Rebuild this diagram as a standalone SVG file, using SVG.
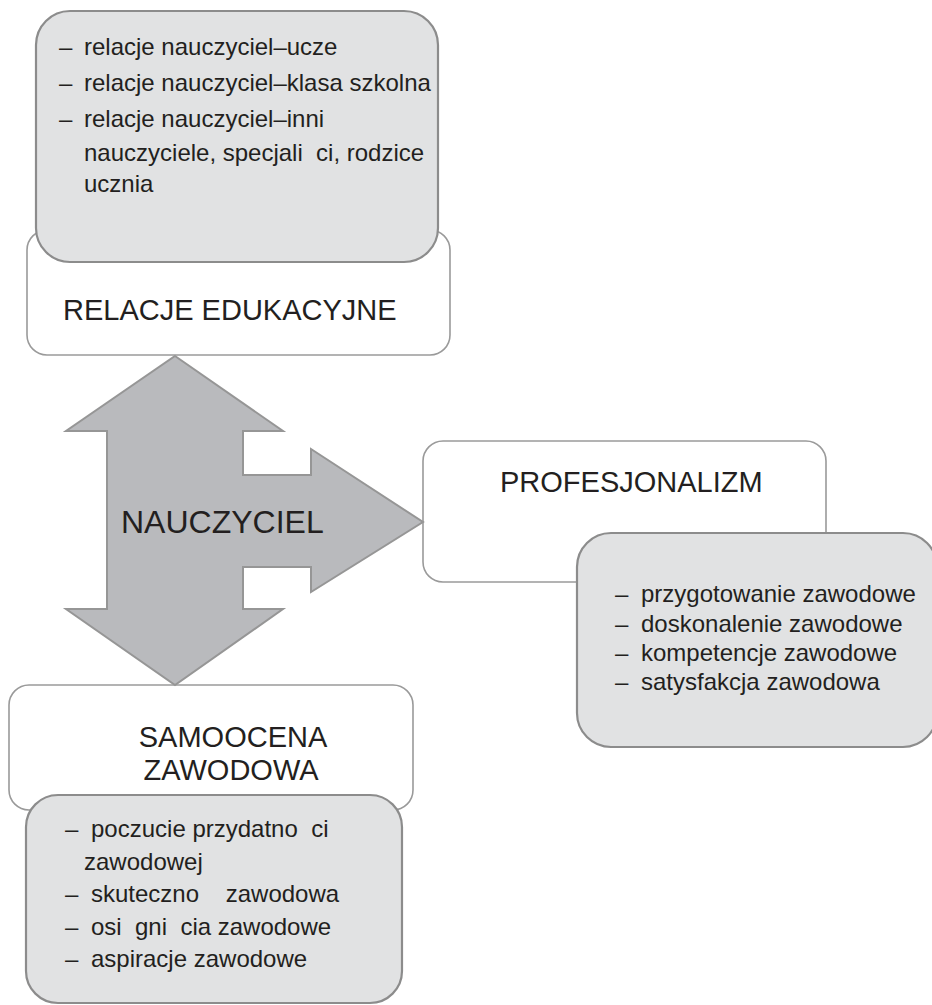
<svg xmlns="http://www.w3.org/2000/svg" width="932" height="1005" viewBox="0 0 932 1005">
  <style>
    .frame { fill: #ffffff; stroke: #9a9a9a; stroke-width: 1.6; }
    .detail { fill: #e1e2e3; stroke: #8c8c8c; stroke-width: 2.2; }
    .hub { fill: #b9babd; stroke: #969696; stroke-width: 2; stroke-linejoin: miter; }
    .title { font-family: "Liberation Sans", Arial, sans-serif; font-size: 29px; fill: #231f20; }
    .hubtext { font-family: "Liberation Sans", Arial, sans-serif; font-size: 32px; fill: #231f20; }
    .item { font-family: "Liberation Sans", Arial, sans-serif; font-size: 24px; fill: #231f20; white-space: pre; }
  </style>

  <rect width="932" height="1005" fill="#ffffff"/>

  <!-- Relacje edukacyjne -->
  <g id="relacje">
    <rect class="frame" x="27" y="230" width="423" height="125" rx="20"/>
    <text class="title" x="63" y="320">RELACJE EDUKACYJNE</text>
  </g>
  <g id="relacje-details">
    <rect class="detail" x="36" y="11" width="402" height="251" rx="34"/>
    <text class="item" x="59" y="55">–</text>
    <text class="item" x="84" y="55">relacje nauczyciel–ucze</text>
    <text class="item" x="59" y="91">–</text>
    <text class="item" x="84" y="91">relacje nauczyciel–klasa szkolna</text>
    <text class="item" x="59" y="127">–</text>
    <text class="item" x="84" y="127">relacje nauczyciel–inni</text>
    <text class="item" x="84" y="161" xml:space="preserve">nauczyciele, specjali  ci, rodzice</text>
    <text class="item" x="84" y="192">ucznia</text>
  </g>

  <!-- Profesjonalizm -->
  <g id="profesjonalizm">
    <rect class="frame" x="423" y="441" width="403" height="141" rx="20"/>
    <text class="title" x="500" y="492">PROFESJONALIZM</text>
  </g>
  <g id="profesjonalizm-details">
    <rect class="detail" x="577" y="533" width="360" height="214" rx="34"/>
    <text class="item" x="615" y="602">–</text>
    <text class="item" x="641" y="602">przygotowanie zawodowe</text>
    <text class="item" x="615" y="632">–</text>
    <text class="item" x="641" y="632">doskonalenie zawodowe</text>
    <text class="item" x="615" y="661">–</text>
    <text class="item" x="641" y="661">kompetencje zawodowe</text>
    <text class="item" x="615" y="690">–</text>
    <text class="item" x="641" y="690">satysfakcja zawodowa</text>
  </g>

  <!-- Samoocena zawodowa -->
  <g id="samoocena">
    <rect class="frame" x="9" y="685" width="404" height="125" rx="20"/>
    <text class="title" x="233" y="747" text-anchor="middle">SAMOOCENA</text>
    <text class="title" x="231" y="780" text-anchor="middle">ZAWODOWA</text>
  </g>
  <g id="samoocena-details">
    <rect class="detail" x="26" y="795" width="376" height="208" rx="32"/>
    <text class="item" x="65" y="837">–</text>
    <text class="item" x="91" y="837" xml:space="preserve">poczucie przydatno  ci</text>
    <text class="item" x="84" y="870">zawodowej</text>
    <text class="item" x="65" y="902">–</text>
    <text class="item" x="91" y="902" xml:space="preserve">skuteczno    zawodowa</text>
    <text class="item" x="65" y="935">–</text>
    <text class="item" x="91" y="935" xml:space="preserve">osi  gni  cia zawodowe</text>
    <text class="item" x="65" y="967">–</text>
    <text class="item" x="91" y="967">aspiracje zawodowe</text>
  </g>

  <!-- Central three-way arrow -->
  <g id="connectors">
    <g id="nauczyciel">
      <path class="hub" d="M175,356 L283,431 L243,431 L243,475 L311,475 L311,449 L423,522 L311,592 L311,567 L243,567 L243,609 L283,609 L175,685 L66,609 L107,609 L107,431 L66,431 Z"/>
      <text class="hubtext" x="121" y="533">NAUCZYCIEL</text>
    </g>
  </g>
</svg>
